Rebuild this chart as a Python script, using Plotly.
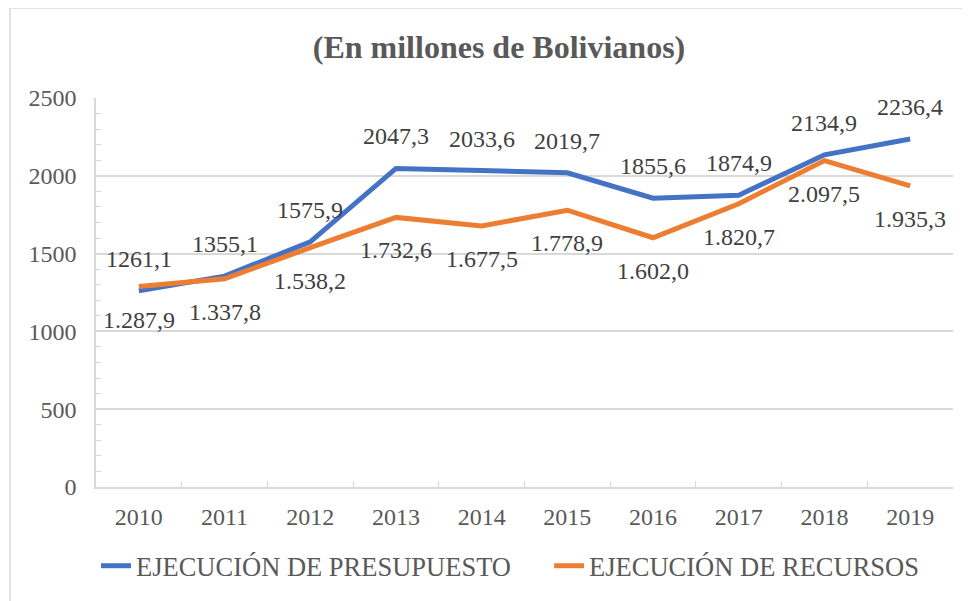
import plotly.graph_objects as go

years = ["2010", "2011", "2012", "2013", "2014", "2015", "2016", "2017", "2018", "2019"]
presupuesto = [1261.1, 1355.1, 1575.9, 2047.3, 2033.6, 2019.7, 1855.6, 1874.9, 2134.9, 2236.4]
recursos = [1287.9, 1337.8, 1538.2, 1732.6, 1677.5, 1778.9, 1602.0, 1820.7, 2097.5, 1935.3]
name_p = "EJECUCIÓN DE PRESUPUESTO"
name_r = "EJECUCIÓN DE RECURSOS"
title_text = "(En millones de Bolivianos)"

FONT = "Liberation Serif, Times New Roman, serif"
GRAY = "#595959"
GRID = "#d9d9d9"
BLUE = "#4472C4"
ORANGE = "#ED7D31"


def fmt_p(v):
    return f"{v:.1f}".replace(".", ",")


def fmt_r(v):
    s = f"{v:,.1f}"
    return s.replace(",", "X").replace(".", ",").replace("X", ".")


fig = go.Figure()
fig.add_trace(go.Scatter(x=years, y=presupuesto, mode="lines",
                         name=name_p + "\u00a0" * 5,
                         line=dict(color=BLUE, width=5)))
fig.add_trace(go.Scatter(x=years, y=recursos, mode="lines", name=name_r,
                         line=dict(color=ORANGE, width=5)))

annotations = []
for i, v in enumerate(presupuesto):
    annotations.append(dict(x=i, y=v, xref="x", yref="y", text=fmt_p(v),
                            showarrow=False, yshift=32,
                            font=dict(family=FONT, size=24, color="#404040")))
for i, v in enumerate(recursos):
    annotations.append(dict(x=i, y=v, xref="x", yref="y", text=fmt_r(v),
                            showarrow=False, yshift=-33,
                            font=dict(family=FONT, size=24, color="#404040")))

# page body has an 8px margin: figure pixel = reference pixel - 8
OFF = 8
W, H = 970 - OFF, 601 - OFF
ml = 96 - OFF
mr = W - (953 - OFF)
mt = 98 - OFF
mb = H - (487 - OFF)
pw = W - ml - mr
ph = H - mt - mb


def px_x(p):
    return (p - OFF - ml) / pw


def px_y(p):
    return (H - mb - (p - OFF)) / ph


fig.update_layout(
    width=W, height=H,
    margin=dict(l=ml, r=mr, t=mt, b=mb, autoexpand=False),
    paper_bgcolor="white", plot_bgcolor="white",
    font=dict(family=FONT, color=GRAY, size=24),
    title=dict(text="<b>" + title_text + "</b>", x=(499 - OFF) / W, xanchor="center",
               y=1 - (47 - OFF) / H, yanchor="middle",
               font=dict(family=FONT, size=32, color=GRAY)),
    showlegend=True,
    legend=dict(orientation="h", xref="container", x=(96 - OFF) / W, xanchor="left",
                yref="container", y=1 - (566 - OFF) / H, yanchor="middle",
                font=dict(family=FONT, size=26.5, color=GRAY)),
    annotations=annotations,
    shapes=[dict(type="rect", xref="paper", yref="paper",
                 x0=px_x(10), x1=px_x(1000), y0=px_y(640), y1=px_y(8),
                 line=dict(color=GRID, width=1.5), layer="below")],
)
fig.update_xaxes(type="category", range=[-0.5, 9.5], tickangle=0,
                 showgrid=False, showline=True, linecolor=GRID,
                 linewidth=1.5, ticks="inside", tickson="boundaries", ticklen=6,
                 tickcolor=GRID, tickfont=dict(family=FONT, size=24, color=GRAY),
                 ticklabelstandoff=7)
fig.update_yaxes(range=[0, 2500], dtick=500, showgrid=True, gridcolor=GRID,
                 gridwidth=1.5, showline=True, linecolor=GRID, linewidth=1.5,
                 zeroline=False, ticks="", tickfont=dict(family=FONT, size=24, color=GRAY),
                 ticklabelstandoff=13,
                 minor=dict(dtick=100, ticks="inside", ticklen=5, tickcolor=GRID,
                            showgrid=False))

fig.write_html("out.html")
